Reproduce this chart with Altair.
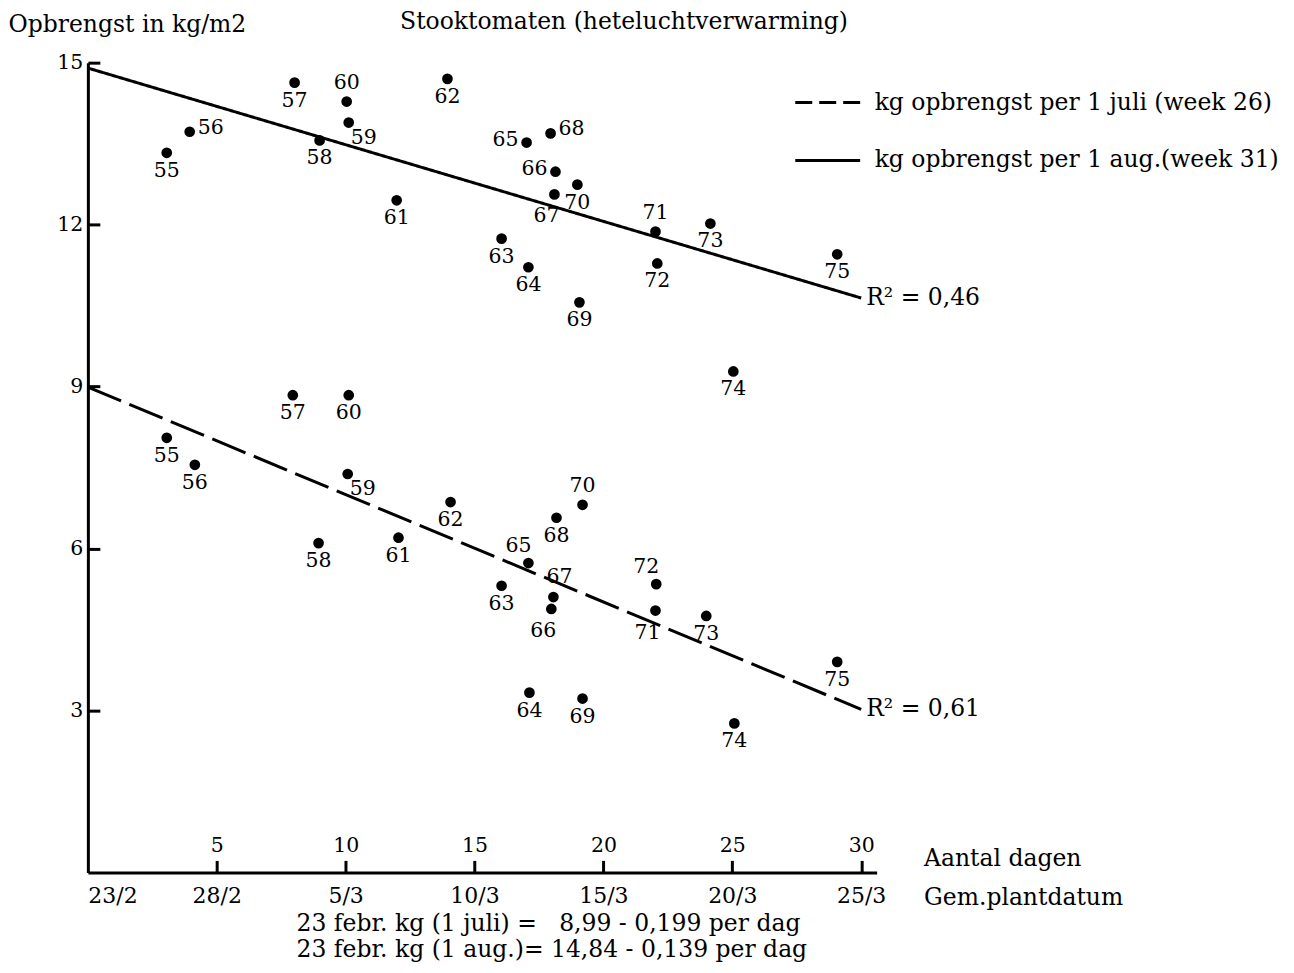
import altair as alt
import pandas as pd

FONT = "DejaVu Serif"

# ---- data ----
years = ["55", "56", "57", "58", "59", "60", "61", "62", "63", "64", "65",
         "66", "67", "68", "69", "70", "71", "72", "73", "74", "75"]

aug_days = [3.06, 3.95, 8.02, 8.99, 10.12, 10.04, 11.98, 13.95, 16.05, 17.09, 17.02,
            18.14, 18.10, 17.95, 19.07, 18.99, 22.02, 22.09, 24.15, 25.04, 29.07]
aug_kg = [13.33, 13.72, 14.63, 13.56, 13.89, 14.28, 12.45, 14.70, 11.74, 11.21, 13.52,
          12.98, 12.56, 13.69, 10.56, 12.74, 11.87, 11.28, 12.02, 9.28, 11.45]

juli_days = [3.06, 4.15, 7.95, 8.95, 10.08, 10.12, 12.05, 14.07, 16.05, 17.13, 17.09,
             17.98, 18.06, 18.18, 19.19, 19.19, 22.02, 22.05, 23.99, 25.08, 29.07]
juli_kg = [8.05, 7.55, 8.84, 6.10, 7.38, 8.84, 6.20, 6.86, 5.31, 3.33, 5.73,
           4.88, 5.10, 6.57, 3.22, 6.81, 4.85, 5.34, 4.75, 2.76, 3.90]

series = ["kg opbrengst per 1 juli (week 26)", "kg opbrengst per 1 aug.(week 31)"]
line_days = [0, 30]
juli_fit = [8.99, 3.02]
aug_fit = [14.90, 10.64]
r2_text = ["R\u00b2 = 0,61", "R\u00b2 = 0,46"]

tick_days = [0, 5, 10, 15, 20, 25, 30]
date_labels = ["23/2", "28/2", "5/3", "10/3", "15/3", "20/3", "25/3"]
day_ticks = [5, 10, 15, 20, 25, 30]
kg_ticks = [3, 6, 9, 12, 15]

title_text = "Stooktomaten (heteluchtverwarming)"
footer = ["23 febr. kg (1 juli) =\u00a0\u00a0 8,99 - 0,199 per dag",
          "23 febr. kg (1 aug.)= 14,84 - 0,139 per dag"]

# ---- label placement (style) ----
aug_place = ["b", "r", "b", "b", "br", "a", "b", "b", "b", "b", "l",
             "l", "bl", "r", "b", "b", "a", "b", "b", "b", "b"]
juli_place = ["b", "b", "b", "b", "br", "b", "b", "b", "b", "b", "al",
              "bl", "ar", "b", "b", "a", "bl", "al", "b", "b", "b"]
offsets = {
    "b": (0, 18, "center"),
    "a": (0, -19, "center"),
    "r": (8, -4, "left"),
    "l": (-8, -3, "right"),
    "br": (15, 15, "center"),
    "bl": (-8, 22, "center"),
    "al": (-10, -17, "center"),
    "ar": (6, -20, "center"),
}

W, H = 790, 811
XMAX = 30.6
TXT = 23.5
NUM = 20.5

pts = pd.DataFrame({
    "day": aug_days + juli_days,
    "kg": aug_kg + juli_kg,
    "year": years + years,
    "place": aug_place + juli_place,
})
lines_df = pd.DataFrame({
    "day": line_days + line_days,
    "kg": juli_fit + aug_fit,
    "series": [series[0]] * 2 + [series[1]] * 2,
})
r2_df = pd.DataFrame({"day": [line_days[1], line_days[1]],
                      "kg": [juli_fit[1], aug_fit[1]], "text": r2_text})

xscale = alt.Scale(domain=[0, XMAX], nice=False, zero=False)
yscale = alt.Scale(domain=[0, 15], nice=False, zero=False)

label_expr = "[" + ",".join("'%s'" % d for d in date_labels) + "][round(datum.value / 5)]"

x_axis_dates = alt.Axis(
    orient="bottom", values=tick_days, labelExpr=label_expr, grid=False,
    domain=True, domainColor="black", domainWidth=3, ticks=False, tickSize=0,
    labelFlush=True, labelOverlap=False, labelPadding=13, labelFont=FONT,
    labelFontSize=22, labelColor="black",
    title="Gem.plantdatum", titleX=837, titleY=32, titleAlign="left",
    titleBaseline="alphabetic", titleAngle=0, titleFont=FONT, titleFontSize=TXT,
    titleFontWeight="normal", titleColor="black",
)
x_axis_days = alt.Axis(
    orient="top", offset=-H, values=day_ticks, grid=False, domain=False,
    ticks=True, tickSize=12, tickWidth=3, tickColor="black",
    labelOverlap=False, labelPadding=9, labelBaseline="alphabetic",
    labelFont=FONT, labelFontSize=NUM, labelColor="black",
    title="Aantal dagen", titleX=837, titleY=-7, titleAlign="left",
    titleBaseline="alphabetic", titleAngle=0, titleFont=FONT, titleFontSize=TXT,
    titleFontWeight="normal", titleColor="black",
)
y_axis_labels = alt.Axis(
    orient="left", values=kg_ticks, grid=False, domain=True,
    domainColor="black", domainWidth=3, ticks=False, tickSize=0,
    labelPadding=5, labelFont=FONT, labelFontSize=NUM, labelColor="black",
    labelOverlap=False,
    title="Opbrengst in kg/m2", titleX=-80, titleY=-31, titleAlign="left",
    titleBaseline="alphabetic", titleAngle=0, titleFont=FONT, titleFontSize=TXT,
    titleFontWeight="normal", titleColor="black",
)
y_axis_ticks = alt.Axis(
    orient="right", offset=-W, values=kg_ticks, grid=False, domain=False,
    labels=False, ticks=True, tickSize=12, tickWidth=3, tickColor="black",
    title=None,
)

points = alt.Chart(pts).mark_circle(size=115, color="black", opacity=1).encode(
    x=alt.X("day:Q", scale=xscale, axis=x_axis_dates),
    y=alt.Y("kg:Q", scale=yscale, axis=y_axis_labels),
)

lines = alt.Chart(lines_df).mark_line(color="black", strokeWidth=3).encode(
    x=alt.X("day:Q", scale=xscale, axis=x_axis_days),
    y=alt.Y("kg:Q", scale=yscale, axis=y_axis_ticks),
    strokeDash=alt.StrokeDash("series:N",
                              scale=alt.Scale(domain=series, range=[[36, 9], [1, 0]]),
                              legend=None),
)

legend = alt.Legend(
    orient="none", legendX=707, legendY=6, title=None, direction="vertical",
    symbolType="stroke", symbolSize=4225, symbolStrokeWidth=3, symbolOpacity=1,
    symbolStrokeColor="black", labelFont=FONT, labelFontSize=TXT,
    labelColor="black", labelOffset=13, padding=0, labelLimit=0, rowPadding=12,
)
legend_src = alt.Chart(lines_df).mark_line(color="black", strokeWidth=0.01, opacity=0).encode(
    x=alt.X("day:Q", scale=xscale, axis=None),
    y=alt.Y("kg:Q", scale=yscale, axis=None),
    strokeDash=alt.StrokeDash("series:N",
                              scale=alt.Scale(domain=series, range=[[17, 7], [1, 0]]),
                              legend=legend),
)

layers = [lines, points, legend_src]
for code, (dx, dy, align) in offsets.items():
    sub = pts[pts["place"] == code]
    if len(sub) == 0:
        continue
    layers.append(
        alt.Chart(sub).mark_text(dx=dx, dy=dy, align=align, baseline="middle",
                                 font=FONT, fontSize=NUM, color="black").encode(
            x=alt.X("day:Q", scale=xscale, axis=None),
            y=alt.Y("kg:Q", scale=yscale, axis=None),
            text="year:N",
        )
    )

layers.append(
    alt.Chart(r2_df).mark_text(dx=5, align="left", baseline="middle", font=FONT,
                               fontSize=TXT, color="black").encode(
        x=alt.X("day:Q", scale=xscale, axis=None),
        y=alt.Y("kg:Q", scale=yscale, axis=None),
        text="text:N",
    )
)

# title and footer annotation texts
layers.append(
    alt.Chart(pd.DataFrame({"t": [title_text]})).mark_text(
        align="center", baseline="alphabetic", font=FONT, fontSize=TXT,
        color="black").encode(x=alt.value(537), y=alt.value(-34), text="t:N")
)
for i, line in enumerate(footer):
    layers.append(
        alt.Chart(pd.DataFrame({"t": [line]})).mark_text(
            align="left", baseline="alphabetic", font=FONT, fontSize=TXT,
            color="black").encode(
            x=alt.value(209), y=alt.value(870 + 26 * i), text="t:N")
    )

chart = alt.layer(*layers).resolve_axis(
    x="independent", y="independent"
).resolve_scale(strokeDash="independent").properties(
    width=W, height=H,
    background="white",
    autosize=alt.AutoSizeParams(type="none"),
    padding={"left": 80, "top": 54, "right": 410, "bottom": 90},
).configure_view(stroke="transparent", strokeWidth=0)

chart.save("out.html", embed_options={"renderer": "svg", "actions": False})
